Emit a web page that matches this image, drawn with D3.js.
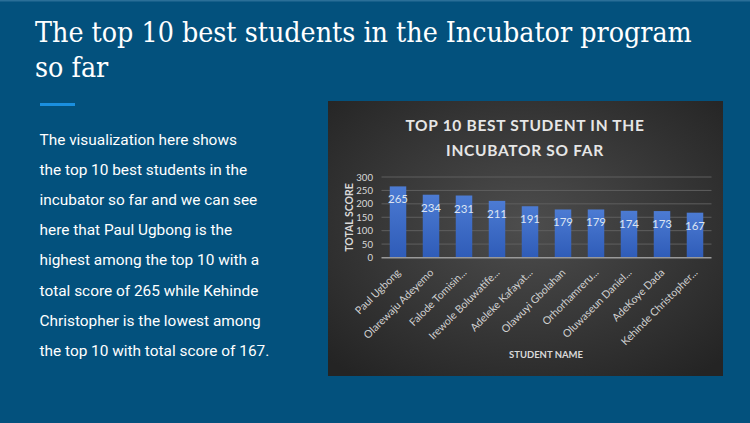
<!DOCTYPE html>
<html>
<head>
<meta charset="utf-8">
<script src="https://cdn.jsdelivr.net/npm/d3@7"></script>
<style>
  html, body { margin: 0; padding: 0; background: #03517d; }
  svg { display: block; }
</style>
</head>
<body>
<svg id="c" width="750" height="423"></svg>
<script>
const pageTitle = ["The top 10 best students in the Incubator program", "so far"];
const bodyLines = [
  "The visualization here shows",
  "the top 10 best students in the",
  "incubator so far and we can see",
  "here that Paul Ugbong is the",
  "highest among the top 10 with a",
  "total score of 265 while Kehinde",
  "Christopher is the lowest among",
  "the top 10 with total score of 167."
];
const chartTitle = ["TOP 10 BEST STUDENT IN THE", "INCUBATOR SO FAR"];
const students = [
  "Paul Ugbong", "Olarewaju Adeyemo", "Falode Tomisin...", "Irewole Boluwatife...",
  "Adeleke Kafayat...", "Olawuyi Gbolahan", "Orhorhamreru...", "Oluwaseun Daniel...",
  "AdeKoye Dada", "Kehinde Christopher..."
];
const scores = [265, 234, 231, 211, 191, 179, 179, 174, 173, 167];
const yTicks = [0, 50, 100, 150, 200, 250, 300];
const yTitle = "TOTAL SCORE";
const xTitle = "STUDENT NAME";

const svg = d3.select("#c");
const defs = svg.append("defs");

// page background
svg.append("rect").attr("width", 750).attr("height", 423).attr("fill", "#03517d");
svg.append("rect").attr("width", 750).attr("height", 1.5).attr("fill", "#2a6f98");

// page title
const tg = svg.append("g");
pageTitle.forEach((t, i) => {
  tg.append("text")
    .attr("x", 35).attr("y", 42 + i * 35)
    .attr("fill", "#ffffff")
    .attr("font-family", "'DejaVu Serif Condensed', 'DejaVu Serif', serif")
    .attr("font-stretch", "condensed")
    .attr("font-size", 27)
    .attr("class", "ptitle")
    .text(t);
});
const first = tg.select("text.ptitle").node();
const w0 = first.getComputedTextLength();
const fs = 27 * 657 / w0;
tg.selectAll("text.ptitle").attr("font-size", Math.min(fs, 30));

// accent line
svg.append("rect").attr("x", 40).attr("y", 103).attr("width", 35).attr("height", 3).attr("fill", "#1a8fdf");

// body text
bodyLines.forEach((t, i) => {
  svg.append("text")
    .attr("x", 39.5).attr("y", 144.5 + i * 30.2)
    .attr("fill", "#ffffff")
    .attr("font-family", "Roboto, sans-serif")
    .attr("font-size", 15.4)
    .text(t);
});

// chart panel
const rg = defs.append("radialGradient").attr("id", "panel")
  .attr("cx", "50%").attr("cy", "45%").attr("r", "70%");
rg.append("stop").attr("offset", "0%").attr("stop-color", "#4d4d4d");
rg.append("stop").attr("offset", "100%").attr("stop-color", "#242424");
const px = 328, py = 101, pw = 395, ph = 275;
svg.append("rect").attr("x", px).attr("y", py).attr("width", pw).attr("height", ph).attr("fill", "url(#panel)");

const chartFont = "Lato, 'Open Sans', sans-serif";

chartTitle.forEach((t, i) => {
  svg.append("text")
    .attr("x", 525).attr("y", 130.5 + i * 25)
    .attr("text-anchor", "middle")
    .attr("fill", "#e6e6e6")
    .attr("font-family", chartFont)
    .attr("font-weight", "bold")
    .attr("font-size", 15.5)
    .attr("letter-spacing", 0.7)
    .text(t);
});

const x = d3.scaleBand().domain(students).range([381.5, 711.5]).paddingInner(0.5).paddingOuter(0.25);
const y = d3.scaleLinear().domain([0, 300]).range([257.5, 177]);

// grid
svg.append("g").selectAll("line").data(yTicks.filter(d => d > 0)).join("line")
  .attr("x1", 381.5).attr("x2", 711.5)
  .attr("y1", d => y(d)).attr("y2", d => y(d))
  .attr("stroke", "#5f5f5f").attr("stroke-width", 1);

// y axis labels
const yAxis = d3.axisLeft(y).tickValues(yTicks).tickSize(0).tickPadding(0);
const yg = svg.append("g").attr("transform", "translate(373,0)").call(yAxis);
yg.select(".domain").remove();
yg.selectAll("text").attr("fill", "#d9d9d9").attr("font-family", chartFont).attr("font-size", 9.6);

// bars
const bg = defs.append("linearGradient").attr("id", "bar").attr("x1", 0).attr("y1", 0).attr("x2", 0).attr("y2", 1);
bg.append("stop").attr("offset", "0%").attr("stop-color", "#4c7bd3");
bg.append("stop").attr("offset", "100%").attr("stop-color", "#2f5cb8");
svg.append("g").selectAll("rect").data(scores).join("rect")
  .attr("x", (d, i) => x(students[i]))
  .attr("width", x.bandwidth())
  .attr("y", d => y(d))
  .attr("height", d => y(0) - y(d))
  .attr("fill", "url(#bar)");

// value labels
svg.append("g").selectAll("text").data(scores).join("text")
  .attr("x", (d, i) => x(students[i]) + x.bandwidth() / 2)
  .attr("y", d => y(d) + 17)
  .attr("text-anchor", "middle")
  .attr("fill", "#dce4f2")
  .attr("font-family", chartFont)
  .attr("font-size", 11.5)
  .text(d => d);

// x axis line
svg.append("line").attr("x1", 381.5).attr("x2", 711.5).attr("y1", 257.8).attr("y2", 257.8)
  .attr("stroke", "#9a9a9a").attr("stroke-width", 1.5);

// x labels
const xAxis = d3.axisBottom(x).tickSize(0).tickPadding(0);
const xg = svg.append("g").attr("transform", "translate(0,262)").call(xAxis);
xg.select(".domain").remove();
xg.selectAll("text")
  .attr("text-anchor", "end")
  .attr("dy", "0.3em")
  .attr("transform", "translate(1,9) rotate(-45)")
  .attr("fill", "#d0d0d0")
  .attr("font-family", chartFont)
  .attr("font-size", 10.6);

// axis titles
svg.append("text")
  .attr("transform", "translate(349,217.5) rotate(-90)")
  .attr("text-anchor", "middle").attr("dy", "0.35em")
  .attr("fill", "#d9d9d9").attr("font-family", chartFont).attr("font-weight", "bold").attr("font-size", 10.5)
  .text(yTitle);
svg.append("text")
  .attr("x", 546).attr("y", 357.5)
  .attr("text-anchor", "middle")
  .attr("fill", "#d9d9d9").attr("font-family", chartFont).attr("font-weight", "bold").attr("font-size", 9.5)
  .text(xTitle);
</script>
</body>
</html>
